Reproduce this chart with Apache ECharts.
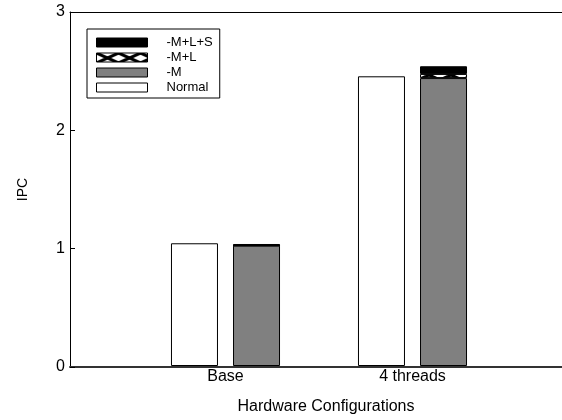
<!DOCTYPE html>
<html>
<head>
<meta charset="utf-8">
<script src="https://cdn.jsdelivr.net/npm/echarts@6/dist/echarts.min.js"></script>
<style>
  html, body { margin: 0; padding: 0; background: #fff; }
  #chart { width: 562px; height: 420px; }
</style>
</head>
<body>
<div id="chart"></div>
<script>
// Hardware configurations on the x axis
const categories = ['Base', '4 threads'];
// IPC of the unmodified run
const normalIPC = [1.04, 2.455];
// Stacked run: -M base, then the extra IPC added by -M+L and -M+L+S
const memIPC = [1.02, 2.44];
const memLIPC = [0, 0.035];
const memLSIPC = [0.014, 0.065];
// Y axis range
const yMin = 0, yMax = 3, yStep = 1;

const FONT = "'Liberation Sans', Arial, Helvetica, sans-serif";

// Cross-hatch fill for the -M+L segment
function makeHatch() {
  const c = document.createElement('canvas');
  c.width = 22; c.height = 10;
  const g = c.getContext('2d');
  g.fillStyle = '#fff';
  g.fillRect(0, 0, 22, 10);
  g.strokeStyle = '#000';
  g.lineWidth = 3;
  g.beginPath();
  g.moveTo(-2.2, -1); g.lineTo(24.2, 11);
  g.moveTo(-2.2, 11); g.lineTo(24.2, -1);
  g.stroke();
  return c;
}
const hatch = { image: makeHatch(), repeat: 'repeat' };

const chart = echarts.init(document.getElementById('chart'), null, { renderer: 'canvas' });

const border = { borderColor: '#000', borderWidth: 1 };

chart.setOption({
  animation: false,
  backgroundColor: '#fff',
  textStyle: { fontFamily: FONT },
  grid: [
    { left: 132, right: 56, top: 12, bottom: 53 },
    { left: 70, right: 0, top: 12, bottom: 53 }
  ],
  legend: {
    orient: 'vertical',
    left: 87,
    top: 29,
    icon: 'rect',
    itemWidth: 51,
    itemHeight: 9,
    itemGap: 0,
    padding: [6, 7, 3, 9],
    borderColor: '#000',
    borderWidth: 1,
    backgroundColor: '#fff',
    itemStyle: { borderColor: '#000', borderWidth: 1 },
    textStyle: { fontFamily: FONT, fontSize: 13, color: '#000', lineHeight: 15, padding: [0, 0, 0, 14] },
    data: ['-M+L+S', '-M+L', '-M', 'Normal']
  },
  xAxis: [
    {
      gridIndex: 0,
      type: 'category',
      data: categories,
      axisLine: { show: false },
      axisTick: { show: false },
      axisLabel: { fontFamily: FONT, fontSize: 16, color: '#000', margin: 3 },
      name: 'Hardware Configurations',
      nameLocation: 'middle',
      nameGap: 33,
      nameTextStyle: { fontFamily: FONT, fontSize: 16, color: '#000', padding: [0, 0, 0, 14] }
    },
    {
      gridIndex: 1,
      type: 'value',
      min: 0, max: 1,
      position: 'bottom',
      axisLine: { show: true, lineStyle: { color: '#333', width: 2 } },
      axisTick: { show: false },
      axisLabel: { show: false },
      splitLine: { show: false }
    },
    {
      gridIndex: 1,
      type: 'value',
      min: 0, max: 1,
      position: 'top',
      axisLine: { show: true, lineStyle: { color: '#000', width: 1 } },
      axisTick: { show: false },
      axisLabel: { show: false },
      splitLine: { show: false }
    }
  ],
  yAxis: [
    { gridIndex: 0, type: 'value', min: yMin, max: yMax, show: false },
    {
      gridIndex: 1,
      type: 'value',
      min: yMin, max: yMax, interval: yStep,
      axisLine: { show: true, lineStyle: { color: '#000', width: 1 } },
      axisTick: { show: true, inside: true, length: 5, lineStyle: { color: '#000' } },
      axisLabel: { fontFamily: FONT, fontSize: 16, color: '#000', margin: 5 },
      splitLine: { show: false },
      name: 'IPC',
      nameLocation: 'middle',
      nameGap: 40,
      nameTextStyle: { fontFamily: FONT, fontSize: 14, color: '#000' }
    }
  ],
  series: [
    {
      name: 'Normal', type: 'bar', xAxisIndex: 0, yAxisIndex: 0, stack: 'normal',
      barWidth: 47, barGap: '32%',
      itemStyle: Object.assign({ color: '#fff' }, border),
      data: normalIPC
    },
    {
      name: '-M', type: 'bar', xAxisIndex: 0, yAxisIndex: 0, stack: 'mem',
      barWidth: 47, barGap: '32%',
      itemStyle: Object.assign({ color: '#808080' }, border),
      data: memIPC
    },
    {
      name: '-M+L', type: 'bar', xAxisIndex: 0, yAxisIndex: 0, stack: 'mem',
      barWidth: 47, barGap: '32%',
      itemStyle: Object.assign({ color: hatch }, border),
      data: memLIPC
    },
    {
      name: '-M+L+S', type: 'bar', xAxisIndex: 0, yAxisIndex: 0, stack: 'mem',
      barWidth: 47, barGap: '32%',
      itemStyle: Object.assign({ color: '#000' }, border),
      data: memLSIPC
    }
  ]
});
</script>
</body>
</html>
